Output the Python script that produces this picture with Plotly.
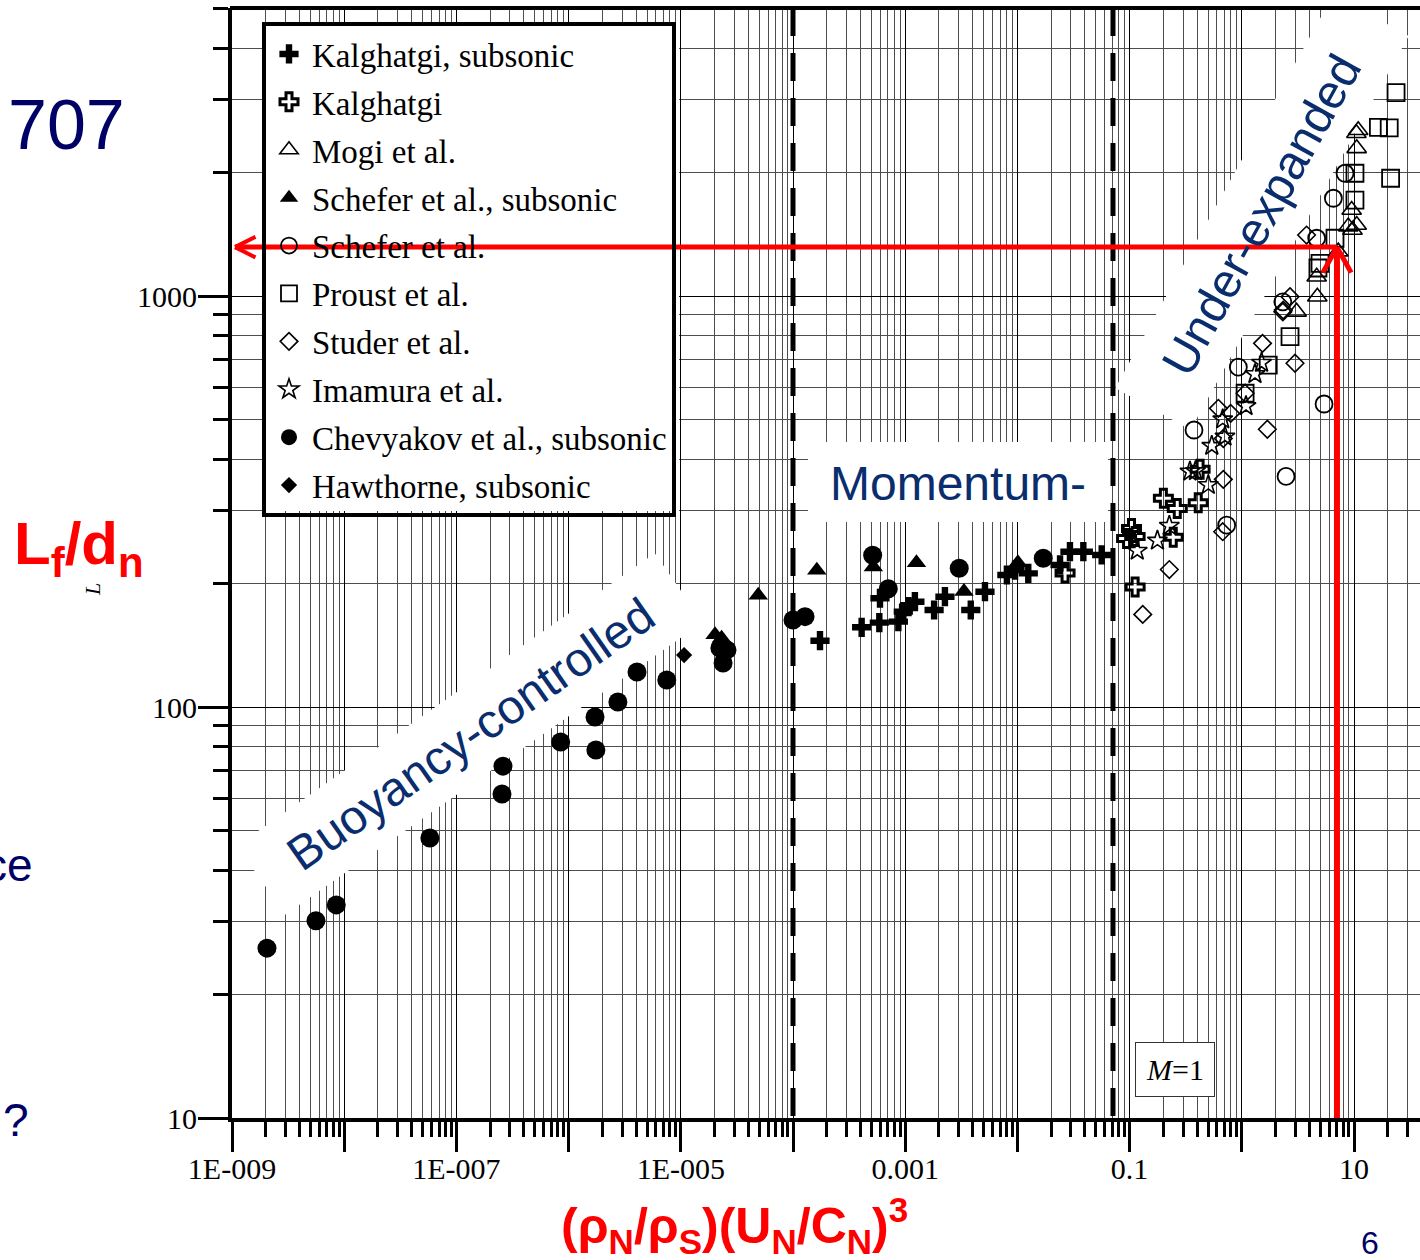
import numpy as np
import plotly.graph_objects as go

# ---------------- data ----------------
KAL_SUB_X = [1.74e-4, 4.09e-4, 5.88e-4, 5.96e-4, 8.69e-4, 9.62e-4, 1.07e-3, 1.22e-3, 1.81e-3,
             2.26e-3, 3.84e-3, 5.14e-3, 8.06e-3, 9.53e-3, 0.0125, 0.0240, 0.0294, 0.0387, 0.0564]
KAL_SUB_Y = [145, 156.3, 160.4, 183.9, 161.3, 170.6, 175.4, 180.4, 172.2,
             185.5, 172.2, 190.8, 209.5, 215.4, 211.4, 221.6, 238.7, 238.7, 234.4]

KAL_X = [0.200, 0.266, 0.409, 0.425, 0.104, 0.094, 0.112, 0.245, 0.112, 0.0266]
KAL_Y = [322, 304, 314, 379, 272, 257, 260, 259, 196, 212]

MOGI_X = [10.5, 10.9, 10.57, 9.53, 8.89, 10.57, 9.70, 7.24, 4.65, 4.71, 3.08]
MOGI_Y = [2489, 2530, 2287, 1619, 1475, 1489, 1447, 1282, 1114, 996, 915]

SCH_SUB_X = [4.9e-5, 2.02e-5, 2.31e-5, 1.63e-4, 5.2e-4, 1.26e-3, 3.34e-3, 0.0101]
SCH_SUB_Y = [187, 150, 147, 215, 219, 224.5, 191, 224.5]

SCH_X = [8.32, 6.55, 4.65, 2.32, 0.931, 0.375, 5.41, 2.48, 0.733]
SCH_Y = [1989, 1729, 1382, 968, 671, 472, 546, 364, 277]

PROUST_X = [23.7, 16.5, 20.6, 21.2, 10.2, 10.2, 6.77, 4.98, 4.77, 2.69, 1.72, 1.07]
PROUST_Y = [3124, 2572, 2565, 1934, 1989, 1712, 1382, 1201, 1170, 796, 679, 580]

STUDER_X = [3.78, 2.34, 2.69, 2.32, 1.53, 2.98, 1.07, 0.618, 0.796, 1.69, 0.684, 0.684, 0.676, 0.226, 0.131]
STUDER_Y = [1407, 924, 996, 915, 767, 686, 580, 533, 518, 474, 450, 358, 267, 216, 168]

IMAMURA_X = [1.50, 1.31, 1.09, 0.676, 0.708, 0.54, 0.345, 0.387, 0.503, 0.226, 0.177, 0.117]
IMAMURA_Y = [688, 646, 540, 501, 455, 432, 374, 375, 347, 276, 254, 240]

CHEV_X = [2.05e-9, 5.6e-9, 8.5e-9, 5.8e-8, 2.55e-7, 2.6e-7, 8.5e-7, 1.72e-6, 1.75e-6, 2.75e-6,
          4.07e-6, 7.5e-6, 2.23e-5, 2.58e-5, 2.38e-5, 1.0e-4, 1.28e-4, 5.13e-4, 7.07e-4, 3.03e-3, 0.0170]
CHEV_Y = [25.9, 30.2, 33.0, 48.0, 61.4, 71.8, 82.2, 94.6, 78.6, 102.8,
          121.7, 116.3, 139.2, 137.7, 127.9, 162.8, 165.9, 234, 194, 217.6, 230]

HAW_X = [1.07e-5]
HAW_Y = [133.8]

# regime boundaries (dashed lines) and the red arrow target point
BOUNDARY_X = [1.0e-4, 0.0711]
ARROW_X = 7.05
ARROW_Y = 1315

X_TICKS = [1e-9, 1e-8, 1e-7, 1e-6, 1e-5, 1e-4, 1e-3, 1e-2, 1e-1, 1, 10]
X_LABELS = ["1E-009", "", "1E-007", "", "1E-005", "", "0.001", "", "0.1", "", "10"]
Y_TICKS = [10, 100, 1000]
Y_LABELS = ["10", "100", "1000"]

# ---------------- geometry ----------------
W, H = 1420, 1260
ML, MR, MT, MB = 232, 0, 8, 142
PW = W - ML - MR
PH = H - MT - MB
XDEC, YDEC = 112.2, 411.0
X_RANGE = [-9, -9 + PW / XDEC]
Y_RANGE = [1, 1 + PH / YDEC]
Y_MIN, Y_MAX = 10 ** Y_RANGE[0], 10 ** Y_RANGE[1]
X_LEFT = 10 ** (X_RANGE[0] + 3 / XDEC)


def px(xp):
    return (xp - ML) / PW


def py(yp):
    return (H - MB - yp) / PH


def dx_(xp):  # pixel -> data (x, log axis)
    return 10 ** (X_RANGE[0] + (xp - ML) / XDEC)


def dy_(yp):  # pixel -> data (y, log axis)
    return 10 ** (Y_RANGE[0] + (H - MB - yp) / YDEC)


SERIF = "Liberation Serif"
SANS = "Liberation Sans"
NAVY = "#0a2d6e"
DNAVY = "#000066"

x_minor = [m * 10.0 ** k for k in range(-9, 2) for m in range(2, 10) if m * 10.0 ** k < 10 ** X_RANGE[1]]
y_minor = [m * 10.0 ** k for k in range(1, 4) for m in range(2, 10) if m * 10.0 ** k < Y_MAX]

fig = go.Figure()


def add_series(x, y, name, symbol, size, lw=0):
    fig.add_trace(go.Scatter(
        x=x, y=y, mode="markers", name=name, legendgroup=name,
        marker=dict(symbol=symbol, size=size, color="black",
                    line=dict(width=lw, color="black")),
    ))


# dashed boundaries
for bx in BOUNDARY_X:
    fig.add_trace(go.Scatter(x=[bx, bx], y=[Y_MAX, Y_MIN], mode="lines", showlegend=False,
                             line=dict(color="black", width=5, dash="28px,17px"), hoverinfo="skip"))

add_series(KAL_SUB_X, KAL_SUB_Y, "Kalghatgi, subsonic", "cross", 16)
add_series(KAL_X, KAL_Y, "Kalghatgi", "cross-open", 15, 3)
add_series(MOGI_X, MOGI_Y, "Mogi et al.", "triangle-up-open", 17, 1.6)
add_series(SCH_SUB_X, SCH_SUB_Y, "Schefer et al., subsonic", "triangle-up", 17)
add_series(SCH_X, SCH_Y, "Schefer et al.", "circle-open", 17, 1.8)
add_series(PROUST_X, PROUST_Y, "Proust et al.", "square-open", 17, 1.8)
add_series(STUDER_X, STUDER_Y, "Studer et al.", "diamond-open", 13.5, 1.6)
add_series(IMAMURA_X, IMAMURA_Y, "Imamura et al.", "star-open", 15, 1.6)
add_series(CHEV_X, CHEV_Y, "Chevyakov et al., subsonic", "circle", 19)
add_series(HAW_X, HAW_Y, "Hawthorne, subsonic", "diamond", 12.5)

# red arrows
fig.add_trace(go.Scatter(x=[ARROW_X, ARROW_X], y=[Y_MIN, ARROW_Y], mode="lines", showlegend=False,
                         line=dict(color="#ff0000", width=6), hoverinfo="skip"))
fig.add_trace(go.Scatter(x=[ARROW_X, X_LEFT], y=[ARROW_Y, ARROW_Y], mode="lines", showlegend=False,
                         line=dict(color="#ff0000", width=5), hoverinfo="skip"))

annotations = []
for ddx, ddy in [(-15, 27), (15, 27)]:
    annotations.append(dict(x=np.log10(ARROW_X), y=np.log10(ARROW_Y), xref="x", yref="y",
                            ax=ddx, ay=ddy, text="", showarrow=True, arrowhead=0,
                            arrowwidth=5, arrowcolor="#ff0000", standoff=0))
for ddx, ddy in [(22, -11), (22, 11)]:
    annotations.append(dict(x=np.log10(X_LEFT), y=np.log10(ARROW_Y), xref="x", yref="y",
                            ax=ddx, ay=ddy, text="", showarrow=True, arrowhead=0,
                            arrowwidth=4, arrowcolor="#ff0000", standoff=0))


def txt(text, x, y, size, color, family=SANS, angle=0, xanchor="center", yanchor="middle", **kw):
    d = dict(text=text, x=px(x), y=py(y), xref="paper", yref="paper", showarrow=False,
             textangle=angle, xanchor=xanchor, yanchor=yanchor,
             font=dict(family=family, size=size, color=color))
    d.update(kw)
    annotations.append(d)


# region labels
txt("Buoyancy-controlled", 470, 734, 48, NAVY, angle=-35)
txt("Momentum-", 958, 484, 48, NAVY)
txt("Under-expanded", 1262, 215, 48, NAVY, angle=-61)
txt("<i>M</i>=1", 1175, 1069, 30, "black", family=SERIF, bgcolor="white",
    bordercolor="#333", borderwidth=1, borderpad=10)

# slide texts around the chart
txt("707", 127, 125, 70, DNAVY, xanchor="right")
txt("<b>L<sub>f</sub>/d<sub>n</sub></b>", 12, 548, 60, "#ff0000", xanchor="left")
txt("<i>L</i>", 92, 590, 22, "black", family=SERIF, angle=-90)
txt("ce", 35, 865, 46, DNAVY, xanchor="right")
txt("?", 1, 1120, 46, DNAVY, xanchor="left")
txt("6", 1370, 1243, 32, DNAVY)
txt("<b>(ρ<sub>N</sub>/ρ<sub>S</sub>)(U<sub>N</sub>/C<sub>N</sub>)<sup>3</sup></b>", 734, 1226, 50, "#ff0000")


# white label backgrounds (between grid and markers), positioned in pixel space
def box_path(cx, cy, L, T, ang):
    a = np.deg2rad(ang)
    u = np.array([np.cos(a), -np.sin(a)])
    p = np.array([np.sin(a), np.cos(a)])
    c = np.array([cx, cy])
    pts = [c - u * L / 2 - p * T / 2, c + u * L / 2 - p * T / 2,
           c + u * L / 2 + p * T / 2, c - u * L / 2 + p * T / 2]
    return "M " + " L ".join(f"{dx_(q[0]):.6e},{dy_(q[1]):.6e}" for q in pts) + " Z"


def rect_path(x0, y0, x1, y1):
    pts = [(x0, y0), (x1, y0), (x1, y1), (x0, y1)]
    return "M " + " L ".join(f"{dx_(a):.6e},{dy_(b):.6e}" for a, b in pts) + " Z"


BG = dict(type="path", xref="x", yref="y", layer="between", fillcolor="white", line=dict(width=0))
shapes = [
    dict(path=box_path(470, 734, 510, 84, 35), **BG),
    dict(path=box_path(1262, 212, 450, 86, 61), **BG),
    dict(path=rect_path(808, 442, 1108, 522), **BG),
    # legend background (legend itself is transparent so the red line shows through)
    dict(path=rect_path(262, 22, 679, 511), **BG),
    dict(type="line", xref="paper", yref="paper", x0=px(230), x1=1, y0=1, y1=1,
         line=dict(color="black", width=4)),
]

axis_common = dict(
    type="log", showline=True, linewidth=4, linecolor="black", mirror=False,
    ticks="outside", ticklen=30, tickwidth=3, tickcolor="black",
    tickmode="array", showgrid=True, gridcolor="black", gridwidth=1.2, zeroline=False,
    tickfont=dict(family=SERIF, size=30, color="black"),
)
minor_common = dict(tickmode="array", ticks="outside", ticklen=15, tickwidth=3, tickcolor="black",
                    showgrid=True, gridcolor="#4d4d4d", gridwidth=1.1)

fig.update_layout(
    width=W, height=H, margin=dict(l=ML, r=MR, t=MT, b=MB),
    paper_bgcolor="white", plot_bgcolor="white",
    xaxis=dict(axis_common, range=X_RANGE, tickvals=X_TICKS, ticktext=X_LABELS, ticklabelstandoff=-9,
               minor=dict(minor_common, tickvals=x_minor)),
    yaxis=dict(axis_common, range=Y_RANGE, tickvals=Y_TICKS, ticktext=Y_LABELS, ticklabelstandoff=-5,
               minor=dict(minor_common, tickvals=y_minor)),
    showlegend=True,
    legend=dict(x=px(262), y=py(22), xanchor="left", yanchor="top",
                bgcolor="rgba(0,0,0,0)", bordercolor="black", borderwidth=4, itemwidth=36,
                font=dict(family=SERIF, size=33, color="black"), tracegroupgap=2),
    annotations=annotations,
    shapes=shapes,
)

fig.write_html("out.html")
